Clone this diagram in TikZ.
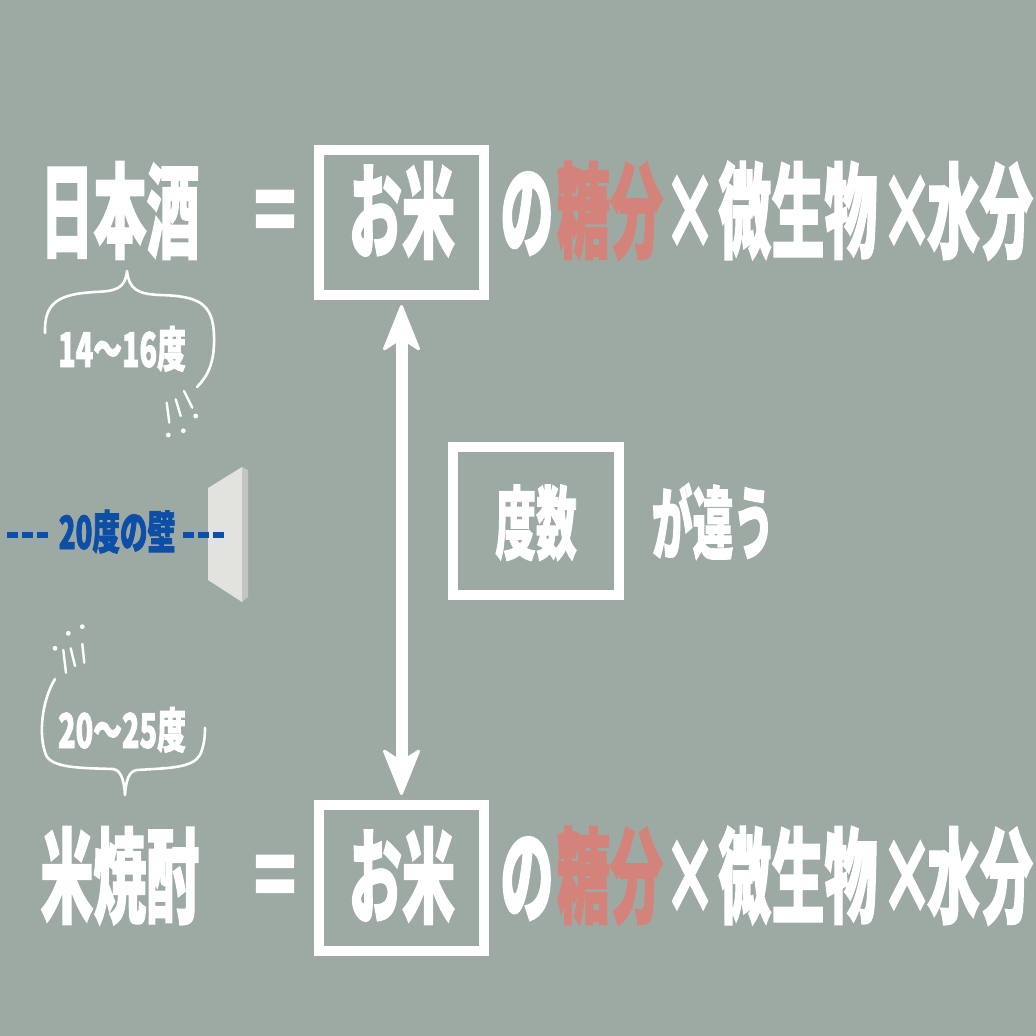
\documentclass[tikz,border=0pt]{standalone}
\usepackage{fontspec}
\usetikzlibrary{arrows.meta}
\newfontfamily\jpbig{Noto Sans CJK JP}[FakeStretch=0.51, BoldFeatures={FakeBold=1.1}]
\newfontfamily\jpsmall{Noto Sans CJK JP}[FakeStretch=0.6, BoldFeatures={FakeBold=1.5}]
\definecolor{bg}{RGB}{157,170,164}
\definecolor{salmon}{RGB}{212,131,122}
\definecolor{wallblue}{RGB}{13,78,166}
\definecolor{wallfront}{RGB}{226,226,222}
\definecolor{wallside}{RGB}{196,197,193}
\begin{document}
\begin{tikzpicture}[x=1pt,y=-1pt,
  bigtxt/.style={font=\jpbig\bfseries\fontsize{104}{104}\selectfont, text=white, inner sep=0pt, anchor=base},
  midtxt/.style={font=\jpbig\bfseries\fontsize{80}{80}\selectfont, text=white, inner sep=0pt, anchor=base},
  smalltxt/.style={font=\jpsmall\bfseries\fontsize{48}{48}\selectfont, text=white, inner sep=0pt, anchor=base},
  framebox/.style={draw=white, line width=10pt, inner sep=0pt},
  bubble/.style={draw=white, line width=2.6pt, line cap=round, line join=round},
  spark/.style={draw=white, line width=2.4pt, line cap=round},
  dotspark/.style={fill=white},
  blueline/.style={draw=wallblue, line width=6pt, dash pattern=on 11pt off 4pt},
  dblarrow/.style={draw=white, line width=12pt,
     {Stealth[length=50pt, width=40pt, inset=13pt, round, line width=3pt]}-{Stealth[length=50pt, width=40pt, inset=13pt, round, line width=3pt]},
     shorten <=5pt, shorten >=5pt}
]
\useasboundingbox (0,0) rectangle (1036,1036);
\fill[bg] (0,0) rectangle (1036,1036);

% frames
\node[framebox, minimum width=165pt, minimum height=145pt] (box1) at (401.5,222.5) {};
\node[framebox, minimum width=165pt, minimum height=146pt] (box2) at (401.5,878) {};
\node[framebox, minimum width=166pt, minimum height=148pt] (box3) at (536,521) {};

% top row
\node[bigtxt] (sake) at (120,250) {日本酒};
\node[bigtxt] (eq1) at (275,250) {＝};
\node[bigtxt] (rice1) at (402,250) {お米};
\node[bigtxt] (no1) at (527,250) {の};
\node[bigtxt, text=salmon] (sugar1) at (610,250) {糖分};
\node[bigtxt] (x1a) at (690,250) {×};
\node[bigtxt] (micro1) at (798,250) {微生物};
\node[bigtxt] (x1b) at (907,250) {×};
\node[bigtxt] (water1) at (980,250) {水分};

% bottom row
\node[bigtxt] (shochu) at (120,915) {米焼酎};
\node[bigtxt] (eq2) at (275,915) {＝};
\node[bigtxt] (rice2) at (402,915) {お米};
\node[bigtxt] (no2) at (527,915) {の};
\node[bigtxt, text=salmon] (sugar2) at (610,915) {糖分};
\node[bigtxt] (x2a) at (690,915) {×};
\node[bigtxt] (micro2) at (798,915) {微生物};
\node[bigtxt] (x2b) at (907,915) {×};
\node[bigtxt] (water2) at (980,915) {水分};

% middle
\node[midtxt] (dosu) at (536,553) {度数};
\node[midtxt] (chigau) at (713,553) {が違う};

% double arrow
\draw[dblarrow] (box1.south) -- (box2.north);

% top bubble
\draw[bubble] (45,333) .. controls (44,303) and (58,294) .. (95,292)
  .. controls (116,291) and (125,289) .. (127,271)
  .. controls (129,289) and (137,294) .. (160,295)
  .. controls (198,296) and (213,303) .. (214,335)
  .. controls (215,362) and (208,376) .. (197,387);
\node[smalltxt] (deg1) at (122,367) {14〜16度};
\draw[spark] (166.7,402.7) -- (169.3,422.7);
\draw[spark] (175.7,399.3) -- (180.7,416);
\draw[spark] (184,391) -- (192.3,407.7);
\fill[dotspark] (168.3,435) circle (2.4);
\fill[dotspark] (183.3,430.7) circle (2.4);
\fill[dotspark] (195.7,416) circle (2.4);

% bottom bubble
\draw[bubble] (55,679) .. controls (42,700) and (38,735) .. (46,755)
  .. controls (52,768) and (80,768) .. (113,769)
  .. controls (121,770) and (124,780) .. (125,795)
  .. controls (126,780) and (129,771) .. (137,770)
  .. controls (170,768) and (192,768) .. (200,755)
  .. controls (204,746) and (205,737) .. (205,728);
\node[smalltxt] (deg2) at (122,748) {20〜25度};
\draw[spark] (63.3,650) -- (66,672.7);
\draw[spark] (70.7,648.3) -- (75,666);
\draw[spark] (82.3,644) -- (84.3,662.7);
\fill[dotspark] (55,648.3) circle (2.4);
\fill[dotspark] (68.3,633.3) circle (2.4);
\fill[dotspark] (82.3,626.7) circle (2.4);

% wall
\fill[wallside] (242,467) -- (248,470) -- (248,597) -- (242,602) -- cycle;
\fill[wallfront] (208,488) -- (242,467) -- (242,602) -- (208,580) -- cycle;
\node[font=\jpsmall\bfseries\fontsize{46}{46}\selectfont, text=wallblue, inner sep=0pt, anchor=base] (wall) at (117,549) {20度の壁};
\draw[blueline] (7,535) -- (48,535);
\draw[blueline] (183,535) -- (224,535);
\end{tikzpicture}
\end{document}
